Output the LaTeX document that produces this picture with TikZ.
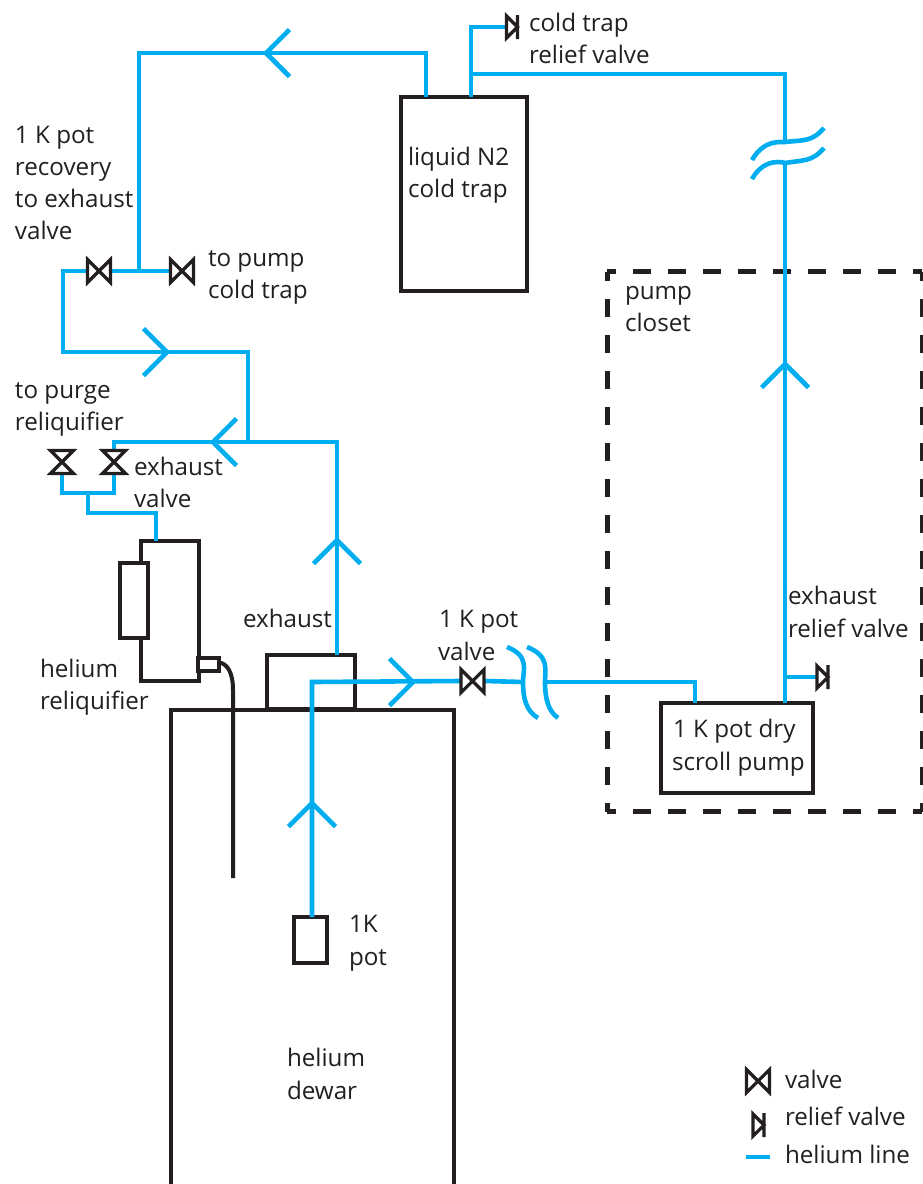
\documentclass[tikz,border=0pt]{standalone}
\usepackage{fontspec}
\setmainfont{Open Sans}
\definecolor{he}{HTML}{00AEEF}
\definecolor{ink}{HTML}{231F20}
\tikzset{
  x=1pt,y=-1pt,
  every node/.style={inner sep=0pt,outer sep=0pt},
  he/.style={draw=he,line width=4.6pt,line join=miter},
  tube/.style={draw=ink,line width=4pt},
  box/.style={draw=ink,line width=4.2pt,fill=white},
  dashv/.style={draw=ink,line width=5pt,dash pattern=on 18pt off 18pt,dash phase=9pt},
  dashh/.style={draw=ink,line width=5pt,dash pattern=on 17.5pt off 17.5pt,dash phase=9pt},
  lbl/.style={anchor=base west,text=ink,font=\fontsize{24.2}{28}\selectfont},
  valvenode/.style={minimum width=25pt,minimum height=25pt},
  vvalvenode/.style={minimum width=25pt,minimum height=25pt},
  reliefnode/.style={minimum width=13pt,minimum height=24pt},
  valve/.pic={\draw[ink,line width=3.2pt,line join=miter] (-11.5,-11.5)--(11.5,11.5)--(11.5,-11.5)--(-11.5,11.5)--cycle;},
  relief/.pic={\draw[ink,line width=3.2pt,line join=miter] (-5.5,-11)--(5.5,0)--(-5.5,11)--cycle (5.5,-12)--(5.5,12);},
  chev/.pic={\draw[he,line cap=butt,line join=miter] (-23.5,-23.5)--(0,0)--(-23.5,23.5);},
}
\begin{document}
\begin{tikzpicture}
\useasboundingbox (0,0) rectangle (922,1184);
% pump closet
\coordinate (c1) at (607,271.5);
\coordinate (c2) at (922,271.5);
\coordinate (c3) at (922,811.5);
\coordinate (c4) at (607,811.5);
\draw[dashv] (c1)--(c4);
\draw[dashv] (c2)--(c3);
\draw[dashh] (c1)--(c2);
\draw[dashh] (c4)--(c3);
% boxes
\node[box,minimum width=126pt,minimum height=194pt] (trap) at (464,194) {};
\node[box,minimum width=152pt,minimum height=90pt] (pump) at (737,748) {};
\node[box,minimum width=283pt,minimum height=520pt] (dewar) at (312.5,970) {};
\node[box,minimum width=88pt,minimum height=54pt] (exh) at (311,682) {};
\node[box,minimum width=58pt,minimum height=140pt] (reliq) at (170,611) {};
\node[box,minimum width=28pt,minimum height=75pt] (side) at (134,600.5) {};
\node[box,minimum width=21pt,minimum height=13pt] (conn) at (208.5,664.5) {};
\node[box,minimum width=33pt,minimum height=46pt] (pot) at (310.5,940) {};
% black tube
\coordinate (t1) at (233,690);
\coordinate (t2) at (233,878);
\draw[tube] (conn.east) ++(0,-2) .. controls +(8,1) and (233,672) .. (t1) -- (t2);
% valves
\node[valvenode] (v1) at (99,271) {};
\node[valvenode] (v2) at (182,271) {};
\node[vvalvenode] (v3) at (62,462) {};
\node[vvalvenode] (v4) at (114,462) {};
\node[valvenode] (v5) at (472.5,681) {};
\node[reliefnode] (r1) at (512,27) {};
\node[reliefnode] (r2) at (822.5,677) {};
\node[valvenode] (lv) at (758,1081) {};
\node[reliefnode] (lr) at (758.5,1125) {};
% junction coordinates
\coordinate (a) at (139,271);
\coordinate (b) at (139,53);
\coordinate (c) at (426,53);
\coordinate (d) at (426,97);
\coordinate (e) at (471,97);
\coordinate (f) at (471,27);
\coordinate (g) at (471,74);
\coordinate (h) at (785,74);
\coordinate (i1) at (785,142);
\coordinate (i2) at (785,163);
\coordinate (j) at (785,703);
\coordinate (k) at (785,677);
\coordinate (l1) at (63,271);
\coordinate (l2) at (63,352);
\coordinate (m1) at (248,352);
\coordinate (m2) at (248,442);
\coordinate (n1) at (337,442);
\coordinate (n2) at (337,655);
\coordinate (o) at (114,442);
\coordinate (p1) at (62,493);
\coordinate (p2) at (114,493);
\coordinate (q1) at (88,493);
\coordinate (q2) at (88,513);
\coordinate (q3) at (156,513);
\coordinate (q4) at (156,541);
\coordinate (s1) at (312,917);
\coordinate (s2) at (312,682);
\coordinate (u1) at (523,682);
\coordinate (u2) at (545,682);
\coordinate (u3) at (695,682);
\coordinate (u4) at (695,703);
% helium lines
\draw[he] (v2.west)--(v1.east);
\draw[he] (a)--(b)--(c)--(d);
\draw[he] (e)--(f)--(r1.west);
\draw[he] (g)--(h)--(i1);
\draw[he] (i2)--(j);
\draw[he] (k)--(r2.west);
\draw[he] (v1.west)--(l1)--(l2)--(m1)--(m2);
\draw[he] (n2)--(n1)--(o)--(v4.north);
\draw[he] (v3.south)--(p1)--(p2)--(v4.south);
\draw[he] (q1)--(q2)--(q3)--(q4);
\draw[he] (s1)--(s2)--(v5.west);
\draw[he] (v5.east)--(u1);
\draw[he] (u2)--(u3)--(u4);
% break marks
\draw[he] (752,160) .. controls (765,137) and (785,143) .. (i1) .. controls (803,140) and (812,142) .. (824,128);
\draw[he] (752,179) .. controls (765,156) and (785,163) .. (i2) .. controls (803,160) and (812,162) .. (824,148);
\draw[he] (507,647) .. controls (530,656) and (523,670) .. (u1) .. controls (523,698) and (526,711) .. (538,718);
\draw[he] (527,647) .. controls (550,656) and (545,670) .. (u2) .. controls (545,698) and (548,711) .. (558,718);
% arrows
\pic at (266,53) [rotate=180] {chev};
\pic at (167,352) {chev};
\pic at (213,442) [rotate=180] {chev};
\pic at (337,540) [rotate=90] {chev};
\pic at (312,803) [rotate=90] {chev};
\pic at (413,682) {chev};
\pic at (785,364) [rotate=90] {chev};
% valve symbols
\pic at (v1) {valve};
\pic at (v2) {valve};
\pic at (v3) [rotate=90] {valve};
\pic at (v4) [rotate=90] {valve};
\pic at (v5) {valve};
\pic at (lv) {valve};
\pic at (r1) {relief};
\pic at (r2) {relief};
\pic at (lr) {relief};
% legend line
\coordinate (ll1) at (746,1157);
\coordinate (ll2) at (770,1157);
\draw[he] (ll1)--(ll2);
% labels
\node[lbl] (t01) at (529,31) {cold trap};
\node[lbl] (t02) at (529,63) {relief valve};
\node[lbl] (t03) at (15,143) {1 K pot};
\node[lbl] (t04) at (15,175) {recovery};
\node[lbl] (t05) at (15,207) {to exhaust};
\node[lbl] (t06) at (15,239) {valve};
\node[lbl] (t07) at (208,266) {to pump};
\node[lbl] (t08) at (208,298) {cold trap};
\node[lbl] (t09) at (15,398) {to purge};
\node[lbl] (t10) at (15,430) {reliquifier};
\node[lbl] (t11) at (134,475) {exhaust};
\node[lbl] (t12) at (134,507) {valve};
\node[lbl] (t13) at (408,165) {liquid N2};
\node[lbl] (t14) at (408,197) {cold trap};
\node[lbl] (t15) at (625,299) {pump};
\node[lbl] (t16) at (625,331) {closet};
\node[lbl] (t17) at (788,604) {exhaust};
\node[lbl] (t18) at (788,637) {relief valve};
\node[lbl] (t19) at (673,737) {1 K pot dry};
\node[lbl] (t20) at (672,770) {scroll pump};
\node[lbl] (t21) at (243,627) {exhaust};
\node[lbl] (t22) at (439,627) {1 K pot};
\node[lbl] (t23) at (438,660) {valve};
\node[lbl] (t24) at (40,677) {helium};
\node[lbl] (t25) at (40,709) {reliquifier};
\node[lbl] (t26) at (349,932) {1K};
\node[lbl] (t27) at (349,965) {pot};
\node[lbl] (t28) at (287,1066) {helium};
\node[lbl] (t29) at (287,1099) {dewar};
\node[lbl] (t30) at (785,1088) {valve};
\node[lbl] (t31) at (785,1125) {relief valve};
\node[lbl] (t32) at (785,1163) {helium line};
\end{tikzpicture}
\end{document}
